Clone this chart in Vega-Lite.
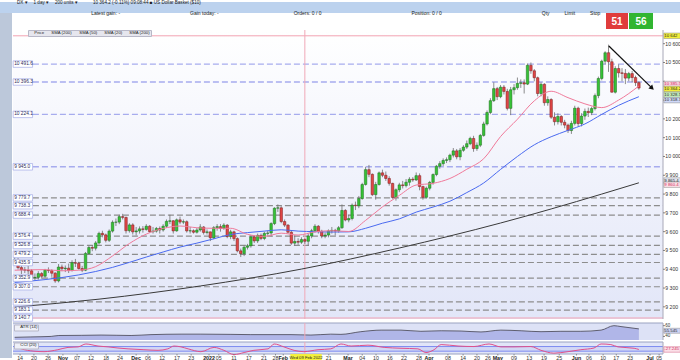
{
"$schema": "https://vega.github.io/schema/vega-lite/v6.json",
"background": "#ffffff",
"padding": 0,
"spacing": 0,
"bounds": "flush",
"resolve": {"scale": {"color": "independent", "fill": "independent"}, "legend": {"color": "independent"}},
"config": {"font": "Liberation Sans", "view": {"stroke": null}, "concat": {"spacing": 0}, "scale": {"continuousPadding": 0}, "title": {"font": "Liberation Sans", "fontWeight": "normal", "subtitleFont": "Liberation Sans"}},
"datasets": {
"candles": [
{"i":0,"o":9430,"h":9468,"l":9418,"c":9452},{"i":1,"o":9452,"h":9462,"l":9398,"c":9409},{"i":2,"o":9409,"h":9420,"l":9375,"c":9397},{"i":3,"o":9397,"h":9412,"l":9380,"c":9395},{"i":4,"o":9395,"h":9418,"l":9372,"c":9392},{"i":5,"o":9392,"h":9400,"l":9350,"c":9355},{"i":6,"o":9355,"h":9378,"l":9340,"c":9357},{"i":7,"o":9357,"h":9390,"l":9345,"c":9377},{"i":8,"o":9377,"h":9385,"l":9350,"c":9363},{"i":9,"o":9363,"h":9402,"l":9355,"c":9395},
{"i":10,"o":9395,"h":9410,"l":9380,"c":9393},{"i":11,"o":9393,"h":9400,"l":9360,"c":9379},{"i":12,"o":9379,"h":9385,"l":9328,"c":9338},{"i":13,"o":9338,"h":9428,"l":9330,"c":9412},{"i":14,"o":9412,"h":9425,"l":9390,"c":9403},{"i":15,"o":9403,"h":9420,"l":9385,"c":9406},{"i":16,"o":9406,"h":9430,"l":9380,"c":9394},{"i":17,"o":9394,"h":9448,"l":9388,"c":9435},{"i":18,"o":9435,"h":9455,"l":9412,"c":9432},{"i":19,"o":9432,"h":9440,"l":9398,"c":9404},
{"i":20,"o":9404,"h":9418,"l":9385,"c":9395},{"i":21,"o":9395,"h":9492,"l":9390,"c":9484},{"i":22,"o":9484,"h":9525,"l":9478,"c":9516},{"i":23,"o":9516,"h":9528,"l":9496,"c":9512},{"i":24,"o":9512,"h":9550,"l":9500,"c":9540},{"i":25,"o":9540,"h":9600,"l":9532,"c":9591},{"i":26,"o":9591,"h":9605,"l":9570,"c":9583},{"i":27,"o":9583,"h":9590,"l":9543,"c":9554},{"i":28,"o":9554,"h":9612,"l":9545,"c":9603},{"i":29,"o":9603,"h":9660,"l":9595,"c":9650},
{"i":30,"o":9650,"h":9670,"l":9630,"c":9651},{"i":31,"o":9651,"h":9690,"l":9640,"c":9680},{"i":32,"o":9680,"h":9695,"l":9665,"c":9676},{"i":33,"o":9676,"h":9680,"l":9590,"c":9605},{"i":34,"o":9605,"h":9645,"l":9595,"c":9636},{"i":35,"o":9636,"h":9645,"l":9585,"c":9599},{"i":36,"o":9599,"h":9625,"l":9580,"c":9604},{"i":37,"o":9604,"h":9628,"l":9590,"c":9615},{"i":38,"o":9615,"h":9630,"l":9595,"c":9612},{"i":39,"o":9612,"h":9640,"l":9605,"c":9629},
{"i":40,"o":9629,"h":9635,"l":9595,"c":9600},{"i":41,"o":9600,"h":9625,"l":9590,"c":9603},{"i":42,"o":9603,"h":9625,"l":9595,"c":9617},{"i":43,"o":9617,"h":9628,"l":9590,"c":9609},{"i":44,"o":9609,"h":9640,"l":9600,"c":9629},{"i":45,"o":9629,"h":9665,"l":9620,"c":9655},{"i":46,"o":9655,"h":9690,"l":9640,"c":9658},{"i":47,"o":9658,"h":9662,"l":9590,"c":9604},{"i":48,"o":9604,"h":9670,"l":9600,"c":9663},{"i":49,"o":9663,"h":9680,"l":9640,"c":9651},
{"i":50,"o":9651,"h":9665,"l":9640,"c":9653},{"i":51,"o":9653,"h":9660,"l":9595,"c":9604},{"i":52,"o":9604,"h":9625,"l":9590,"c":9605},{"i":53,"o":9605,"h":9612,"l":9590,"c":9597},{"i":54,"o":9597,"h":9620,"l":9590,"c":9609},{"i":55,"o":9609,"h":9640,"l":9600,"c":9625},{"i":56,"o":9625,"h":9630,"l":9585,"c":9596},{"i":57,"o":9596,"h":9612,"l":9585,"c":9599},{"i":58,"o":9599,"h":9600,"l":9550,"c":9567},{"i":59,"o":9567,"h":9630,"l":9560,"c":9621},
{"i":60,"o":9621,"h":9640,"l":9605,"c":9627},{"i":61,"o":9627,"h":9640,"l":9600,"c":9618},{"i":62,"o":9618,"h":9645,"l":9610,"c":9635},{"i":63,"o":9635,"h":9640,"l":9565,"c":9574},{"i":64,"o":9574,"h":9610,"l":9560,"c":9599},{"i":65,"o":9599,"h":9605,"l":9550,"c":9563},{"i":66,"o":9563,"h":9570,"l":9490,"c":9498},{"i":67,"o":9498,"h":9510,"l":9465,"c":9483},{"i":68,"o":9483,"h":9525,"l":9470,"c":9517},{"i":69,"o":9517,"h":9535,"l":9505,"c":9525},
{"i":70,"o":9525,"h":9580,"l":9515,"c":9572},{"i":71,"o":9572,"h":9580,"l":9540,"c":9551},{"i":72,"o":9551,"h":9590,"l":9540,"c":9580},{"i":73,"o":9580,"h":9590,"l":9555,"c":9564},{"i":74,"o":9564,"h":9600,"l":9555,"c":9591},{"i":75,"o":9591,"h":9605,"l":9580,"c":9593},{"i":76,"o":9593,"h":9650,"l":9575,"c":9643},{"i":77,"o":9643,"h":9730,"l":9635,"c":9725},{"i":78,"o":9725,"h":9745,"l":9705,"c":9727},{"i":79,"o":9727,"h":9735,"l":9645,"c":9654},
{"i":80,"o":9654,"h":9665,"l":9625,"c":9635},{"i":81,"o":9635,"h":9640,"l":9590,"c":9597},{"i":82,"o":9597,"h":9605,"l":9530,"c":9539},{"i":83,"o":9539,"h":9580,"l":9525,"c":9548},{"i":84,"o":9548,"h":9565,"l":9530,"c":9544},{"i":85,"o":9544,"h":9570,"l":9535,"c":9558},{"i":86,"o":9558,"h":9565,"l":9535,"c":9549},{"i":87,"o":9549,"h":9590,"l":9525,"c":9577},{"i":88,"o":9577,"h":9615,"l":9565,"c":9605},{"i":89,"o":9605,"h":9640,"l":9595,"c":9629},
{"i":90,"o":9629,"h":9635,"l":9590,"c":9602},{"i":91,"o":9602,"h":9610,"l":9565,"c":9577},{"i":92,"o":9577,"h":9595,"l":9565,"c":9582},{"i":93,"o":9582,"h":9612,"l":9570,"c":9604},{"i":94,"o":9604,"h":9625,"l":9590,"c":9607},{"i":95,"o":9607,"h":9615,"l":9580,"c":9604},{"i":96,"o":9604,"h":9630,"l":9595,"c":9621},{"i":97,"o":9621,"h":9745,"l":9615,"c":9713},{"i":98,"o":9713,"h":9720,"l":9655,"c":9662},{"i":99,"o":9662,"h":9690,"l":9650,"c":9670},
{"i":100,"o":9670,"h":9750,"l":9660,"c":9741},{"i":101,"o":9741,"h":9760,"l":9715,"c":9738},{"i":102,"o":9738,"h":9790,"l":9725,"c":9776},{"i":103,"o":9776,"h":9860,"l":9770,"c":9851},{"i":104,"o":9851,"h":9945,"l":9845,"c":9930},{"i":105,"o":9930,"h":9955,"l":9890,"c":9905},{"i":106,"o":9905,"h":9910,"l":9790,"c":9797},{"i":107,"o":9797,"h":9865,"l":9770,"c":9851},{"i":108,"o":9851,"h":9920,"l":9845,"c":9913},{"i":109,"o":9913,"h":9930,"l":9890,"c":9900},
{"i":110,"o":9900,"h":9920,"l":9870,"c":9883},{"i":111,"o":9883,"h":9895,"l":9845,"c":9857},{"i":112,"o":9857,"h":9860,"l":9775,"c":9782},{"i":113,"o":9782,"h":9830,"l":9765,"c":9823},{"i":114,"o":9823,"h":9860,"l":9810,"c":9849},{"i":115,"o":9849,"h":9870,"l":9830,"c":9845},{"i":116,"o":9845,"h":9880,"l":9835,"c":9863},{"i":117,"o":9863,"h":9890,"l":9845,"c":9879},{"i":118,"o":9879,"h":9890,"l":9865,"c":9875},{"i":119,"o":9875,"h":9915,"l":9870,"c":9898},
{"i":120,"o":9898,"h":9910,"l":9820,"c":9840},{"i":121,"o":9840,"h":9845,"l":9770,"c":9783},{"i":122,"o":9783,"h":9840,"l":9775,"c":9831},{"i":123,"o":9831,"h":9870,"l":9820,"c":9862},{"i":124,"o":9862,"h":9910,"l":9850,"c":9904},{"i":125,"o":9904,"h":9955,"l":9895,"c":9948},{"i":126,"o":9948,"h":9975,"l":9935,"c":9962},{"i":127,"o":9962,"h":9990,"l":9950,"c":9979},{"i":128,"o":9979,"h":9995,"l":9965,"c":9983},{"i":129,"o":9983,"h":10015,"l":9970,"c":10007},
{"i":130,"o":10007,"h":10045,"l":9995,"c":10030},{"i":131,"o":10030,"h":10040,"l":9985,"c":9998},{"i":132,"o":9998,"h":10045,"l":9980,"c":10033},{"i":133,"o":10033,"h":10060,"l":10025,"c":10050},{"i":134,"o":10050,"h":10085,"l":10040,"c":10068},{"i":135,"o":10068,"h":10105,"l":10060,"c":10096},{"i":136,"o":10096,"h":10110,"l":10025,"c":10042},{"i":137,"o":10042,"h":10075,"l":10030,"c":10060},{"i":138,"o":10060,"h":10120,"l":10050,"c":10112},{"i":139,"o":10112,"h":10185,"l":10105,"c":10173},
{"i":140,"o":10173,"h":10245,"l":10165,"c":10234},{"i":141,"o":10234,"h":10310,"l":10225,"c":10297},{"i":142,"o":10297,"h":10395,"l":10290,"c":10361},{"i":143,"o":10361,"h":10370,"l":10300,"c":10318},{"i":144,"o":10318,"h":10380,"l":10310,"c":10369},{"i":145,"o":10369,"h":10380,"l":10330,"c":10346},{"i":146,"o":10346,"h":10360,"l":10245,"c":10256},{"i":147,"o":10256,"h":10370,"l":10220,"c":10355},{"i":148,"o":10355,"h":10385,"l":10330,"c":10366},{"i":149,"o":10366,"h":10420,"l":10355,"c":10389},
{"i":150,"o":10389,"h":10410,"l":10365,"c":10392},{"i":151,"o":10392,"h":10410,"l":10335,"c":10385},{"i":152,"o":10385,"h":10495,"l":10380,"c":10485},{"i":153,"o":10485,"h":10500,"l":10440,"c":10456},{"i":154,"o":10456,"h":10465,"l":10400,"c":10419},{"i":155,"o":10419,"h":10425,"l":10320,"c":10335},{"i":156,"o":10335,"h":10395,"l":10320,"c":10384},{"i":157,"o":10384,"h":10390,"l":10270,"c":10286},{"i":158,"o":10286,"h":10320,"l":10270,"c":10303},{"i":159,"o":10303,"h":10310,"l":10200,"c":10209},
{"i":160,"o":10209,"h":10235,"l":10165,"c":10185},{"i":161,"o":10185,"h":10230,"l":10170,"c":10213},{"i":162,"o":10213,"h":10220,"l":10165,"c":10182},{"i":163,"o":10182,"h":10195,"l":10150,"c":10167},{"i":164,"o":10167,"h":10175,"l":10125,"c":10138},{"i":165,"o":10138,"h":10190,"l":10120,"c":10176},{"i":166,"o":10176,"h":10270,"l":10165,"c":10257},{"i":167,"o":10257,"h":10265,"l":10160,"c":10175},{"i":168,"o":10175,"h":10230,"l":10160,"c":10215},{"i":169,"o":10215,"h":10255,"l":10195,"c":10240},
{"i":170,"o":10240,"h":10260,"l":10210,"c":10233},{"i":171,"o":10233,"h":10265,"l":10220,"c":10255},{"i":172,"o":10255,"h":10335,"l":10245,"c":10324},{"i":173,"o":10324,"h":10425,"l":10310,"c":10415},{"i":174,"o":10415,"h":10515,"l":10405,"c":10507},{"i":175,"o":10507,"h":10560,"l":10490,"c":10552},{"i":176,"o":10552,"h":10595,"l":10450,"c":10504},{"i":177,"o":10504,"h":10520,"l":10340,"c":10342},{"i":178,"o":10342,"h":10480,"l":10335,"c":10468},{"i":179,"o":10468,"h":10490,"l":10420,"c":10445},
{"i":180,"o":10445,"h":10470,"l":10400,"c":10442},{"i":181,"o":10442,"h":10465,"l":10385,"c":10417},{"i":182,"o":10417,"h":10450,"l":10400,"c":10441},{"i":183,"o":10441,"h":10455,"l":10395,"c":10420},{"i":184,"o":10420,"h":10430,"l":10375,"c":10393},{"i":185,"o":10393,"h":10400,"l":10355,"c":10364}
],
"s20": [{"i":0,"v":9395},{"i":9,"v":9398},{"i":14,"v":9392},{"i":19,"v":9395},{"i":24,"v":9414},{"i":29,"v":9471},{"i":34,"v":9537},{"i":39,"v":9587},{"i":44,"v":9617},{"i":49,"v":9630},{"i":54,"v":9621},{"i":59,"v":9618},{"i":64,"v":9618},{"i":69,"v":9586},{"i":74,"v":9575},{"i":79,"v":9592},{"i":84,"v":9582},{"i":89,"v":9599},{"i":94,"v":9605},{"i":99,"v":9601},{"i":104,"v":9660},{"i":109,"v":9732},{"i":114,"v":9793},{"i":119,"v":9848},{"i":124,"v":9857},{"i":129,"v":9883},{"i":134,"v":9932},{"i":139,"v":9988},{"i":144,"v":10106},{"i":149,"v":10198},{"i":154,"v":10296},{"i":159,"v":10347},{"i":164,"v":10313},{"i":169,"v":10280},{"i":174,"v":10260},{"i":179,"v":10300},{"i":185,"v":10375}],
"s50": [{"i":0,"v":9330},{"i":9,"v":9345},{"i":19,"v":9370},{"i":29,"v":9410},{"i":39,"v":9465},{"i":44,"v":9492},{"i":49,"v":9518},{"i":54,"v":9539},{"i":59,"v":9562},{"i":64,"v":9585},{"i":69,"v":9595},{"i":74,"v":9603},{"i":79,"v":9610},{"i":84,"v":9603},{"i":89,"v":9600},{"i":94,"v":9598},{"i":99,"v":9599},{"i":104,"v":9618},{"i":109,"v":9645},{"i":114,"v":9668},{"i":119,"v":9704},{"i":124,"v":9731},{"i":129,"v":9762},{"i":134,"v":9808},{"i":139,"v":9859},{"i":144,"v":9931},{"i":149,"v":10000},{"i":154,"v":10062},{"i":159,"v":10105},{"i":164,"v":10139},{"i":169,"v":10173},{"i":174,"v":10224},{"i":179,"v":10272},{"i":185,"v":10318}],
"s200": [{"i":0,"v":9199},{"i":25,"v":9241},{"i":55,"v":9311},{"i":85,"v":9401},{"i":114,"v":9513},{"i":144,"v":9646},{"i":174,"v":9800},{"i":185,"v":9860}],
"levels": [{"v":10491.6,"t":"10 491.6","k":"b"},{"v":10396.3,"t":"10 396.3","k":"b"},{"v":10224.1,"t":"10 224.1","k":"b"},{"v":9945.0,"t":"9 945.0","k":"b"},{"v":9779.7,"t":"9 779.7","k":"g"},{"v":9738.3,"t":"9 738.3","k":"g"},{"v":9688.4,"t":"9 688.4","k":"g"},{"v":9576.4,"t":"9 576.4","k":"g"},{"v":9526.8,"t":"9 526.8","k":"g"},{"v":9479.2,"t":"9 479.2","k":"g"},{"v":9435.9,"t":"9 435.9","k":"g"},{"v":9352.9,"t":"9 352.9","k":"g"},{"v":9307.0,"t":"9 307.0","k":"g"},{"v":9226.6,"t":"9 226.6","k":"g"},{"v":9183.1,"t":"9 183.1","k":"g"},{"v":9140.7,"t":"9 140.7","k":"p"}],
"pink": [{"v":10642},{"v":9140.7}],
"arrow": [{"i":176.1,"v":10588},{"i":188.9,"v":10364}],
"arrowhead": [{"i":188.9,"v":10364}],
"yt": [{"v":9200,"t":"9 200"},{"v":9300,"t":"9 300"},{"v":9400,"t":"9 400"},{"v":9500,"t":"9 500"},{"v":9600,"t":"9 600"},{"v":9700,"t":"9 700"},{"v":9800,"t":"9 800"},{"v":9900,"t":"9 900"},{"v":10000,"t":"10 000"},{"v":10100,"t":"10 100"},{"v":10200,"t":"10 200"},{"v":10300,"t":"10 300"},{"v":10400,"t":"10 400"},{"v":10500,"t":"10 500"},{"v":10600,"t":"10 600"}],
"rlab": [{"v":10642,"t":"10 642","k":"y"},{"v":10385.5,"t":"10 385.5","k":"p"},{"v":10359,"t":"10 364.2","k":"y"},{"v":10328,"t":"10 328.5","k":"g"},{"v":10300,"t":"10 318.3","k":"b"},{"v":9872,"t":"9 865.4","k":"d"},{"v":9850,"t":"9 860.4","k":"r"}],
"leg": [{"n":"Price"},{"n":"SMA (200)\u00a0"},{"n":"SMA (50)"},{"n":"SMA (20)"},{"n":"SMA (200)"}],
"atr": [{"i":0,"v":38.3},{"i":4.8,"v":39},{"i":10.8,"v":40},{"i":13.1,"v":41.7},{"i":19.7,"v":42},{"i":25.6,"v":42.5},{"i":34.5,"v":41.7},{"i":40.4,"v":43.3},{"i":49.3,"v":44.2},{"i":55.2,"v":44.2},{"i":64.1,"v":43.8},{"i":70,"v":43.3},{"i":81.9,"v":43.3},{"i":87.8,"v":42.5},{"i":93.7,"v":44.2},{"i":96.7,"v":43.8},{"i":102.6,"v":48.8},{"i":108.6,"v":51.7},{"i":114.5,"v":51.7},{"i":120.4,"v":49.5},{"i":126.4,"v":50.5},{"i":132.3,"v":50},{"i":138.2,"v":48.3},{"i":144.1,"v":51.7},{"i":150.1,"v":50.5},{"i":156,"v":48.8},{"i":161.9,"v":49.5},{"i":167.8,"v":49.5},{"i":173.8,"v":51.7},{"i":177.6,"v":60},{"i":179.7,"v":58.3},{"i":185,"v":54}],
"atrt": [{"v":60,"t":"60"},{"v":40,"t":"40"}],
"cci": [{"i":0,"v":100},{"i":1.9,"v":0},{"i":5.7,"v":-100},{"i":8.7,"v":-122},{"i":12.8,"v":-37},{"i":15.8,"v":63},{"i":18.8,"v":85},{"i":21.1,"v":211},{"i":24.7,"v":122},{"i":27.7,"v":85},{"i":30.6,"v":37},{"i":33.6,"v":0},{"i":38.3,"v":-37},{"i":42.5,"v":-63},{"i":45.4,"v":0},{"i":47.2,"v":122},{"i":49.3,"v":85},{"i":51.4,"v":0},{"i":55.2,"v":-122},{"i":59.1,"v":63},{"i":62,"v":-63},{"i":65,"v":-248},{"i":68,"v":-159},{"i":70.9,"v":-63},{"i":75.1,"v":0},{"i":76.9,"v":211},{"i":79.8,"v":85},{"i":82.8,"v":-63},{"i":85.7,"v":-122},{"i":89.9,"v":-37},{"i":93.7,"v":0},{"i":96.7,"v":211},{"i":99.7,"v":122},{"i":104.7,"v":159},{"i":109.5,"v":63},{"i":114.5,"v":26},{"i":119.5,"v":0},{"i":121.9,"v":-159},{"i":124.3,"v":-37},{"i":126.4,"v":185},{"i":131.4,"v":122},{"i":136.1,"v":100},{"i":140.6,"v":211},{"i":144.1,"v":85},{"i":148,"v":85},{"i":153,"v":100},{"i":156,"v":-63},{"i":159.8,"v":-185},{"i":164,"v":-122},{"i":167.8,"v":-37},{"i":171.7,"v":37},{"i":173.8,"v":211},{"i":176.7,"v":185},{"i":178.8,"v":85},{"i":183.6,"v":26},{"i":185,"v":-27}],
"ccilev": [{"v":100},{"v":-100}],
"xl": [{"p":1.6,"t":"14"},{"p":5.7,"t":"20"},{"p":9.9,"t":"26"},{"p":14.3,"t":"Nov"},{"p":18.5,"t":"07"},{"p":22.6,"t":"12"},{"p":27.1,"t":"18"},{"p":31.2,"t":"24"},{"p":36,"t":"Dec"},{"p":39.5,"t":"06"},{"p":43.7,"t":"12"},{"p":48.1,"t":"17"},{"p":52.3,"t":"23"},{"p":57.6,"t":"2022"},{"p":60.5,"t":"05"},{"p":65,"t":"11"},{"p":69.4,"t":"17"},{"p":73.9,"t":"21"},{"p":77.3,"t":"28"},{"p":79.6,"t":"Feb"},{"p":93.1,"t":"21"},{"p":98.8,"t":"Mar"},{"p":103,"t":"04"},{"p":107.1,"t":"10"},{"p":111.2,"t":"16"},{"p":115.4,"t":"22"},{"p":119.8,"t":"28"},{"p":122.8,"t":"Apr"},{"p":128.4,"t":"08"},{"p":132.9,"t":"14"},{"p":137,"t":"20"},{"p":140.3,"t":"26"},{"p":143.2,"t":"May"},{"p":148,"t":"09"},{"p":152.5,"t":"13"},{"p":156.9,"t":"19"},{"p":161.4,"t":"25"},{"p":166.5,"t":"Jun"},{"p":170.2,"t":"06"},{"p":174.4,"t":"10"},{"p":178.3,"t":"17"},{"p":182.4,"t":"23"},{"p":188.3,"t":"Jul"},{"p":191,"t":"05"}]
},
"vconcat": [
{
"width": 680, "height": 11,
"view": {"fill": "#bcd2ee", "stroke": null},
"title": {"text": "DX \u25be\u2003 1 day \u25be\u2003 200 units \u25be\u2003\u2003\u2003 10 364.2 (-0.11%)  09:08:44 \u25a0 US Dollar Basket ($10)",
 "subtitle": "\u200b\u2003\u2003\u2003\u2003\u2003\u2003\u2003\u2003\u2003\u2003\u2003\u2003\u2003\u2003\u00a0\u00a0\u00a0Latest gain: -\u2003\u2003\u2003\u2003\u2003\u2003\u2003\u2003\u2003\u2003\u2003\u2003\u2003\u2003Gain today: -\u2003\u2003\u2003\u2003\u2003\u2003\u2003\u2003\u2003\u2003\u2003\u2003\u2003\u2003\u2003Orders: 0 / 0\u2003\u2003\u2003\u2003\u2003\u2003\u2003\u2003\u2003\u2003\u2003\u2003\u2003\u2003\u2003\u2003\u2003\u2003Position: 0 / 0\u2003\u2003\u2003\u2003\u2003\u2003\u2003\u2003\u2003\u2003\u2003\u2003\u2003\u2003\u2003\u2003\u2003\u2003\u2003\u2003Qty\u2003\u2003\u2003Limit\u2003\u2003\u2003Stop",
 "anchor": "start", "orient": "top", "offset": -19.5, "baseline": "bottom", "fontSize": 4.6, "subtitleFontSize": 5, "subtitlePadding": 6, "subtitleColor": "#222222", "color": "#1a1a1a", "dx": 17},
"data": {"values": [{"t": ""}]},
"mark": {"type": "text"},
"encoding": {"text": {"field": "t"}}
},
{
"hconcat": [
{
"width": 12, "height": 345,
"view": {"fill": "#bcc8da", "stroke": null},
"data": {"values": [{"t": ""}]},
"mark": {"type": "text"},
"encoding": {"text": {"field": "t"}}
},
{
"vconcat": [
{
"hconcat": [
{
"width": 593, "height": 16,
"view": {"fill": null, "stroke": null},
"data": {"values": [{"t": ""}]},
"mark": {"type": "text"},
"encoding": {"text": {"field": "t"}}
},
{
"width": 22, "height": 16,
"view": {"fill": "#e03c3c", "stroke": null},
"data": {"values": [{"t": "51"}]},
"mark": {"type": "text", "color": "#ffffff", "fontSize": 10, "fontWeight": "bold", "baseline": "middle", "dy": 1},
"encoding": {"text": {"field": "t"}}
},
{
"width": 1, "height": 16,
"view": {"fill": null, "stroke": null},
"data": {"values": [{"t": ""}]},
"mark": {"type": "text"},
"encoding": {"text": {"field": "t"}}
},
{
"width": 24, "height": 16,
"view": {"fill": "#31b531", "stroke": null},
"data": {"values": [{"t": "56"}]},
"mark": {"type": "text", "color": "#ffffff", "fontSize": 10, "fontWeight": "bold", "baseline": "middle", "dy": 1},
"encoding": {"text": {"field": "t"}}
},
{
"width": 28, "height": 16,
"view": {"fill": null, "stroke": null},
"data": {"values": [{"t": ""}]},
"mark": {"type": "text"},
"encoding": {"text": {"field": "t"}}
}
],
"spacing": 0
},
{
"width": 650, "height": 289,
"view": {"fill": {"gradient": "linear", "x1": 0, "y1": 0, "x2": 0, "y2": 1, "stops": [{"offset": 0, "color": "#ffffff"}, {"offset": 1, "color": "#e2e6f8"}]}, "stroke": null},
"layer": [
{"data": {"name": "levels"}, "transform": [{"filter": "datum.k == 'b'"}],
 "mark": {"type": "rule", "color": "#a7acee", "strokeWidth": 1.4, "strokeDash": [6, 3]},
 "encoding": {"x": {"datum": 5.4, "type": "quantitative", "scale": {"domain": [-0.5, 192.15], "nice": false, "zero": false, "padding": 0}, "axis": null}, "x2": {"datum": 192.15},
  "y": {"field": "v", "type": "quantitative", "scale": {"domain": [9135.4, 10672.9], "nice": false, "zero": false, "padding": 0}, "axis": null}}},
{"data": {"name": "levels"}, "transform": [{"filter": "datum.k == 'g'"}],
 "mark": {"type": "rule", "color": "#8d8d8d", "strokeWidth": 1.2, "strokeDash": [6, 3]},
 "encoding": {"x": {"datum": 5.4, "type": "quantitative", "scale": {"domain": [-0.5, 192.15], "nice": false, "zero": false}, "axis": null}, "x2": {"datum": 192.15},
  "y": {"field": "v", "type": "quantitative", "scale": {"domain": [9135.4, 10672.9], "nice": false, "zero": false}, "axis": null}}},
{"data": {"name": "pink"}, "mark": {"type": "rule", "color": "#f2a3b3", "strokeWidth": 1},
 "encoding": {"y": {"field": "v", "type": "quantitative", "scale": {"domain": [9135.4, 10672.9], "nice": false, "zero": false}, "axis": null}}},
{"data": {"values": [{"t": 1}]}, "mark": {"type": "rule", "color": "#f0a8b8", "strokeWidth": 1},
 "encoding": {"x": {"datum": 86, "type": "quantitative", "scale": {"domain": [-0.5, 192.15], "nice": false, "zero": false}, "axis": null}}},
{"data": {"values": [{"t": 1}]}, "mark": {"type": "rule", "color": "#a8a8b8", "strokeWidth": 1},
 "encoding": {"x": {"datum": 192.15, "type": "quantitative", "scale": {"domain": [-0.5, 192.15], "nice": false, "zero": false}, "axis": null}}},
{"data": {"name": "yt"}, "mark": {"type": "rule", "color": "#666666", "strokeWidth": 0.8},
 "encoding": {"x": {"datum": 192.15, "type": "quantitative", "scale": {"domain": [-0.5, 192.15], "nice": false, "zero": false}, "axis": null}, "x2": {"datum": 192.75},
  "y": {"field": "v", "type": "quantitative", "scale": {"domain": [9135.4, 10672.9], "nice": false, "zero": false}, "axis": null}}},
{"data": {"name": "yt"}, "transform": [{"filter": "datum.v != 10400 && datum.v != 10300"}], "mark": {"type": "text", "align": "left", "baseline": "middle", "fontSize": 5.1, "color": "#333333"},
 "encoding": {"x": {"datum": 192.85, "type": "quantitative", "scale": {"domain": [-0.5, 192.15], "nice": false, "zero": false}, "axis": null},
  "y": {"field": "v", "type": "quantitative", "scale": {"domain": [9135.4, 10672.9], "nice": false, "zero": false}, "axis": null}, "text": {"field": "t"}}},
{"data": {"name": "s200"}, "mark": {"type": "line", "color": "#3a3a3a", "strokeWidth": 1, "interpolate": "monotone"},
 "encoding": {"x": {"field": "i", "type": "quantitative", "scale": {"domain": [-0.5, 192.15], "nice": false, "zero": false}, "axis": null},
  "y": {"field": "v", "type": "quantitative", "scale": {"domain": [9135.4, 10672.9], "nice": false, "zero": false}, "axis": null}}},
{"data": {"name": "candles"}, "mark": {"type": "rule", "color": "#6f6f6f", "strokeWidth": 0.8},
 "encoding": {"x": {"field": "i", "type": "quantitative", "scale": {"domain": [-0.5, 192.15], "nice": false, "zero": false}, "axis": null},
  "y": {"field": "l", "type": "quantitative", "scale": {"domain": [9135.4, 10672.9], "nice": false, "zero": false}, "axis": null}, "y2": {"field": "h"}}},
{"data": {"name": "candles"}, "mark": {"type": "bar", "size": 2.5, "strokeWidth": 0.5},
 "encoding": {"x": {"field": "i", "type": "quantitative", "scale": {"domain": [-0.5, 192.15], "nice": false, "zero": false}, "axis": null},
  "y": {"field": "o", "type": "quantitative", "scale": {"domain": [9135.4, 10672.9], "nice": false, "zero": false}, "axis": null}, "y2": {"field": "c"},
  "fill": {"condition": {"test": "datum.c >= datum.o", "value": "#36c236"}, "value": "#e04646"},
  "stroke": {"condition": {"test": "datum.c >= datum.o", "value": "#1d6b1d"}, "value": "#7a1f1f"}}},
{"data": {"name": "s50"}, "mark": {"type": "line", "color": "#4a6af0", "strokeWidth": 1, "interpolate": "monotone"},
 "encoding": {"x": {"field": "i", "type": "quantitative", "scale": {"domain": [-0.5, 192.15], "nice": false, "zero": false}, "axis": null},
  "y": {"field": "v", "type": "quantitative", "scale": {"domain": [9135.4, 10672.9], "nice": false, "zero": false}, "axis": null}}},
{"data": {"name": "s20"}, "mark": {"type": "line", "color": "#f07a9a", "strokeWidth": 1, "interpolate": "monotone"},
 "encoding": {"x": {"field": "i", "type": "quantitative", "scale": {"domain": [-0.5, 192.15], "nice": false, "zero": false}, "axis": null},
  "y": {"field": "v", "type": "quantitative", "scale": {"domain": [9135.4, 10672.9], "nice": false, "zero": false}, "axis": null}}},
{"data": {"name": "arrow"}, "mark": {"type": "line", "color": "#111111", "strokeWidth": 1.2},
 "encoding": {"x": {"field": "i", "type": "quantitative", "scale": {"domain": [-0.5, 192.15], "nice": false, "zero": false}, "axis": null},
  "y": {"field": "v", "type": "quantitative", "scale": {"domain": [9135.4, 10672.9], "nice": false, "zero": false}, "axis": null}}},
{"data": {"name": "arrowhead"}, "mark": {"type": "point", "shape": "triangle-right", "angle": 44, "size": 30, "filled": true, "color": "#111111", "opacity": 1},
 "encoding": {"x": {"field": "i", "type": "quantitative", "scale": {"domain": [-0.5, 192.15], "nice": false, "zero": false}, "axis": null},
  "y": {"field": "v", "type": "quantitative", "scale": {"domain": [9135.4, 10672.9], "nice": false, "zero": false}, "axis": null}}},
{"data": {"name": "levels"}, "mark": {"type": "bar", "size": 6.5, "fill": "#ffffff", "stroke": "#a3aae6", "strokeWidth": 0.7},
 "encoding": {"x": {"datum": -0.45, "type": "quantitative", "scale": {"domain": [-0.5, 192.15], "nice": false, "zero": false}, "axis": null}, "x2": {"datum": 5.3},
  "y": {"field": "v", "type": "quantitative", "scale": {"domain": [9135.4, 10672.9], "nice": false, "zero": false}, "axis": null}}},
{"data": {"name": "levels"}, "mark": {"type": "text", "align": "left", "baseline": "middle", "fontSize": 4.8, "color": "#2b2b5a", "dx": 0.5},
 "encoding": {"x": {"datum": -0.3, "type": "quantitative", "scale": {"domain": [-0.5, 192.15], "nice": false, "zero": false}, "axis": null},
  "y": {"field": "v", "type": "quantitative", "scale": {"domain": [9135.4, 10672.9], "nice": false, "zero": false}, "axis": null}, "text": {"field": "t"}}},
{"data": {"name": "rlab"}, "mark": {"type": "bar", "size": 5.5, "strokeWidth": 0.5, "stroke": "#888888"},
 "encoding": {"x": {"datum": 192.4, "type": "quantitative", "scale": {"domain": [-0.5, 192.15], "nice": false, "zero": false}, "axis": null}, "x2": {"datum": 197.3},
  "y": {"field": "v", "type": "quantitative", "scale": {"domain": [9135.4, 10672.9], "nice": false, "zero": false}, "axis": null},
  "fill": {"field": "k", "type": "nominal", "scale": {"domain": ["y", "p", "g", "b", "d", "r"], "range": ["#f2ee3a", "#f9d3de", "#c6efbf", "#cfd8f8", "#e4e6f0", "#fbe0e6"]}, "legend": null}}},
{"data": {"name": "rlab"}, "mark": {"type": "text", "align": "left", "baseline": "middle", "fontSize": 4.3, "dx": 0.5},
 "encoding": {"x": {"datum": 192.4, "type": "quantitative", "scale": {"domain": [-0.5, 192.15], "nice": false, "zero": false}, "axis": null},
  "y": {"field": "v", "type": "quantitative", "scale": {"domain": [9135.4, 10672.9], "nice": false, "zero": false}, "axis": null}, "text": {"field": "t"},
  "color": {"condition": {"test": "datum.k == 'p' || datum.k == 'r'", "value": "#d02a60"}, "value": "#222222"}}},
{"data": {"name": "leg"}, "mark": {"type": "point", "opacity": 0},
 "encoding": {"color": {"field": "n", "type": "nominal", "scale": {"domain": ["Price", "SMA (200)\u00a0", "SMA (50)", "SMA (20)", "SMA (200)"], "range": ["#31b531", "#f08080", "#1a3cff", "#ff2a55", "#000000"]},
  "legend": {"orient": "none", "legendX": 15, "legendY": 0, "direction": "horizontal", "symbolType": "square", "symbolSize": 10, "symbolOpacity": 1, "symbolStrokeWidth": 0, "labelFontSize": 4.3, "labelColor": "#222222", "title": null, "columnPadding": 1, "labelOffset": 1.5, "fillColor": "#e6e6ee", "strokeColor": "#b8b8c8", "padding": 0.5}}}}
]
},
{
"width": 650, "height": 17,
"view": {"fill": "#dde2f6", "stroke": null},
"layer": [
{"data": {"name": "atr"}, "mark": {"type": "area", "color": "#b0b6e8", "opacity": 1, "interpolate": "monotone", "line": {"color": "#5e5e70", "strokeWidth": 1}},
 "encoding": {"x": {"field": "i", "type": "quantitative", "scale": {"domain": [-0.5, 192.15], "nice": false, "zero": false}, "axis": null},
  "y": {"field": "v", "type": "quantitative", "scale": {"domain": [33.3, 65], "nice": false, "zero": false}, "axis": null},
  "y2": {"datum": 33.3}}},
{"data": {"values": [{"t": 1}]}, "mark": {"type": "rule", "color": "#9aa2c0", "strokeWidth": 1},
 "encoding": {"y": {"datum": 65, "type": "quantitative", "scale": {"domain": [33.3, 65], "nice": false, "zero": false}, "axis": null}}},
{"data": {"values": [{"t": 1}]}, "mark": {"type": "rule", "color": "#f0a8b8", "strokeWidth": 1},
 "encoding": {"x": {"datum": 86, "type": "quantitative", "scale": {"domain": [-0.5, 192.15], "nice": false, "zero": false}, "axis": null}}},
{"data": {"values": [{"t": 1}]}, "mark": {"type": "rule", "color": "#a8a8b8", "strokeWidth": 1},
 "encoding": {"x": {"datum": 192.15, "type": "quantitative", "scale": {"domain": [-0.5, 192.15], "nice": false, "zero": false}, "axis": null}}},
{"data": {"name": "atrt"}, "mark": {"type": "rule", "color": "#666666", "strokeWidth": 0.8},
 "encoding": {"x": {"datum": 192.15, "type": "quantitative", "scale": {"domain": [-0.5, 192.15], "nice": false, "zero": false}, "axis": null}, "x2": {"datum": 192.75},
  "y": {"field": "v", "type": "quantitative", "scale": {"domain": [33.3, 65], "nice": false, "zero": false}, "axis": null}}},
{"data": {"name": "atrt"}, "mark": {"type": "text", "align": "left", "baseline": "middle", "fontSize": 4.5, "color": "#333333"},
 "encoding": {"x": {"datum": 192.85, "type": "quantitative", "scale": {"domain": [-0.5, 192.15], "nice": false, "zero": false}, "axis": null},
  "y": {"field": "v", "type": "quantitative", "scale": {"domain": [33.3, 65], "nice": false, "zero": false}, "axis": null}, "text": {"field": "t"}}},
{"data": {"values": [{"v": 50.5, "t": "55.545"}]}, "mark": {"type": "bar", "size": 5, "fill": "#cfd4f4", "stroke": "#888888", "strokeWidth": 0.5},
 "encoding": {"x": {"datum": 192.4, "type": "quantitative", "scale": {"domain": [-0.5, 192.15], "nice": false, "zero": false}, "axis": null}, "x2": {"datum": 197.3},
  "y": {"field": "v", "type": "quantitative", "scale": {"domain": [33.3, 65], "nice": false, "zero": false}, "axis": null}}},
{"data": {"values": [{"v": 50.5, "t": "55.545"}]}, "mark": {"type": "text", "align": "left", "baseline": "middle", "fontSize": 4.3, "dx": 0.5, "color": "#222222"},
 "encoding": {"x": {"datum": 192.4, "type": "quantitative", "scale": {"domain": [-0.5, 192.15], "nice": false, "zero": false}, "axis": null},
  "y": {"field": "v", "type": "quantitative", "scale": {"domain": [33.3, 65], "nice": false, "zero": false}, "axis": null}, "text": {"field": "t"}}},
{"data": {"values": [{"n": "ATR (14)"}]}, "mark": {"type": "point", "opacity": 0},
 "encoding": {"color": {"field": "n", "type": "nominal", "scale": {"domain": ["ATR (14)"], "range": ["#000000"]},
  "legend": {"orient": "none", "legendX": 1, "legendY": 1.5, "symbolType": "square", "symbolSize": 10, "symbolOpacity": 1, "symbolStrokeWidth": 0, "labelFontSize": 4.3, "labelColor": "#222222", "title": null, "labelOffset": 1.5, "fillColor": "#eef0f8", "strokeColor": "#b8b8c8", "padding": 0.5}}}}
]
},
{
"width": 650, "height": 12,
"view": {"fill": "#e1e5f8", "stroke": null},
"layer": [
{"data": {"values": [{"t": 1}]}, "mark": {"type": "rect", "color": "#ccd1f4", "opacity": 0.7},
 "encoding": {"x": {"datum": -0.5, "type": "quantitative", "scale": {"domain": [-0.5, 192.15], "nice": false, "zero": false}, "axis": null}, "x2": {"datum": 192.15},
  "y": {"datum": -100, "type": "quantitative", "scale": {"domain": [-222, 296], "nice": false, "zero": false}, "axis": null}, "y2": {"datum": 100}}},
{"data": {"values": [{"v": 296}, {"v": -222}]}, "mark": {"type": "rule", "color": "#9aa2c0", "strokeWidth": 1},
 "encoding": {"y": {"field": "v", "type": "quantitative", "scale": {"domain": [-222, 296], "nice": false, "zero": false}, "axis": null}}},
{"data": {"name": "ccilev"}, "mark": {"type": "rule", "color": "#7d8cf0", "strokeWidth": 1},
 "encoding": {"y": {"field": "v", "type": "quantitative", "scale": {"domain": [-222, 296], "nice": false, "zero": false}, "axis": null}}},
{"data": {"values": [{"t": 1}]}, "mark": {"type": "rule", "color": "#f0a8b8", "strokeWidth": 1},
 "encoding": {"x": {"datum": 86, "type": "quantitative", "scale": {"domain": [-0.5, 192.15], "nice": false, "zero": false}, "axis": null}}},
{"data": {"values": [{"t": 1}]}, "mark": {"type": "rule", "color": "#a8a8b8", "strokeWidth": 1},
 "encoding": {"x": {"datum": 192.15, "type": "quantitative", "scale": {"domain": [-0.5, 192.15], "nice": false, "zero": false}, "axis": null}}},
{"data": {"name": "cci"}, "mark": {"type": "line", "color": "#e0508a", "strokeWidth": 1, "interpolate": "monotone"},
 "encoding": {"x": {"field": "i", "type": "quantitative", "scale": {"domain": [-0.5, 192.15], "nice": false, "zero": false}, "axis": null},
  "y": {"field": "v", "type": "quantitative", "scale": {"domain": [-222, 296], "nice": false, "zero": false}, "axis": null}}},
{"data": {"name": "xl"}, "mark": {"type": "rule", "color": "#777777", "strokeWidth": 0.8},
 "encoding": {"x": {"field": "p", "type": "quantitative", "scale": {"domain": [-0.5, 192.15], "nice": false, "zero": false}, "axis": null},
  "y": {"datum": -222, "type": "quantitative", "scale": {"domain": [-222, 296], "nice": false, "zero": false}, "axis": null}, "y2": {"datum": -287}}},
{"data": {"name": "xl"}, "transform": [{"filter": "indexof(['Nov','Dec','2022','Feb','Mar','Apr','May','Jun','Jul'], datum.t) < 0"}],
 "mark": {"type": "text", "align": "center", "baseline": "middle", "fontSize": 5.3, "color": "#333333"},
 "encoding": {"x": {"field": "p", "type": "quantitative", "scale": {"domain": [-0.5, 192.15], "nice": false, "zero": false}, "axis": null},
  "y": {"datum": -375, "type": "quantitative", "scale": {"domain": [-222, 296], "nice": false, "zero": false}, "axis": null}, "text": {"field": "t"}}},
{"data": {"name": "xl"}, "transform": [{"filter": "indexof(['Nov','Dec','2022','Feb','Mar','Apr','May','Jun','Jul'], datum.t) >= 0"}],
 "mark": {"type": "text", "align": "center", "baseline": "middle", "fontSize": 5.3, "fontWeight": "bold", "color": "#222222"},
 "encoding": {"x": {"field": "p", "type": "quantitative", "scale": {"domain": [-0.5, 192.15], "nice": false, "zero": false}, "axis": null},
  "y": {"datum": -375, "type": "quantitative", "scale": {"domain": [-222, 296], "nice": false, "zero": false}, "axis": null}, "text": {"field": "t"}}},
{"data": {"values": [{"v": -27, "t": "-27.245"}]}, "mark": {"type": "bar", "size": 5.5, "fill": "#fbe0e8", "stroke": "#d06080", "strokeWidth": 0.5},
 "encoding": {"x": {"datum": 192.4, "type": "quantitative", "scale": {"domain": [-0.5, 192.15], "nice": false, "zero": false}, "axis": null}, "x2": {"datum": 197.3},
  "y": {"field": "v", "type": "quantitative", "scale": {"domain": [-222, 296], "nice": false, "zero": false}, "axis": null}}},
{"data": {"values": [{"v": -27, "t": "-27.245"}]}, "mark": {"type": "text", "align": "left", "baseline": "middle", "fontSize": 4.3, "dx": 0.5, "color": "#d02a60"},
 "encoding": {"x": {"datum": 192.4, "type": "quantitative", "scale": {"domain": [-0.5, 192.15], "nice": false, "zero": false}, "axis": null},
  "y": {"field": "v", "type": "quantitative", "scale": {"domain": [-222, 296], "nice": false, "zero": false}, "axis": null}, "text": {"field": "t"}}},
{"data": {"values": [{"v": -375, "t": "Wed 09 Feb 2022"}]}, "mark": {"type": "bar", "size": 7, "fill": "#f4f03a"},
 "encoding": {"x": {"datum": 81.7, "type": "quantitative", "scale": {"domain": [-0.5, 192.15], "nice": false, "zero": false}, "axis": null}, "x2": {"datum": 91.0},
  "y": {"field": "v", "type": "quantitative", "scale": {"domain": [-222, 296], "nice": false, "zero": false}, "axis": null}}},
{"data": {"values": [{"v": -375, "t": "Wed 09 Feb 2022"}]}, "mark": {"type": "text", "align": "center", "baseline": "middle", "fontSize": 4.2, "color": "#222222"},
 "encoding": {"x": {"datum": 86.35, "type": "quantitative", "scale": {"domain": [-0.5, 192.15], "nice": false, "zero": false}, "axis": null},
  "y": {"field": "v", "type": "quantitative", "scale": {"domain": [-222, 296], "nice": false, "zero": false}, "axis": null}, "text": {"field": "t"}}},
{"data": {"values": [{"n": "CCI (20)"}]}, "mark": {"type": "point", "opacity": 0},
 "encoding": {"color": {"field": "n", "type": "nominal", "scale": {"domain": ["CCI (20)"], "range": ["#f0204a"]},
  "legend": {"orient": "none", "legendX": 1, "legendY": 0.5, "symbolType": "square", "symbolSize": 10, "symbolOpacity": 1, "symbolStrokeWidth": 0, "labelFontSize": 4.3, "labelColor": "#222222", "title": null, "labelOffset": 1.5, "fillColor": "#eef0f8", "strokeColor": "#b8b8c8", "padding": 0.5}}}}
]
}
],
"spacing": 0,
"resolve": {"scale": {"color": "independent", "fill": "independent"}, "legend": {"color": "independent"}}
}
],
"spacing": 0,
"resolve": {"scale": {"color": "independent", "fill": "independent"}, "legend": {"color": "independent"}}
}
]
}
